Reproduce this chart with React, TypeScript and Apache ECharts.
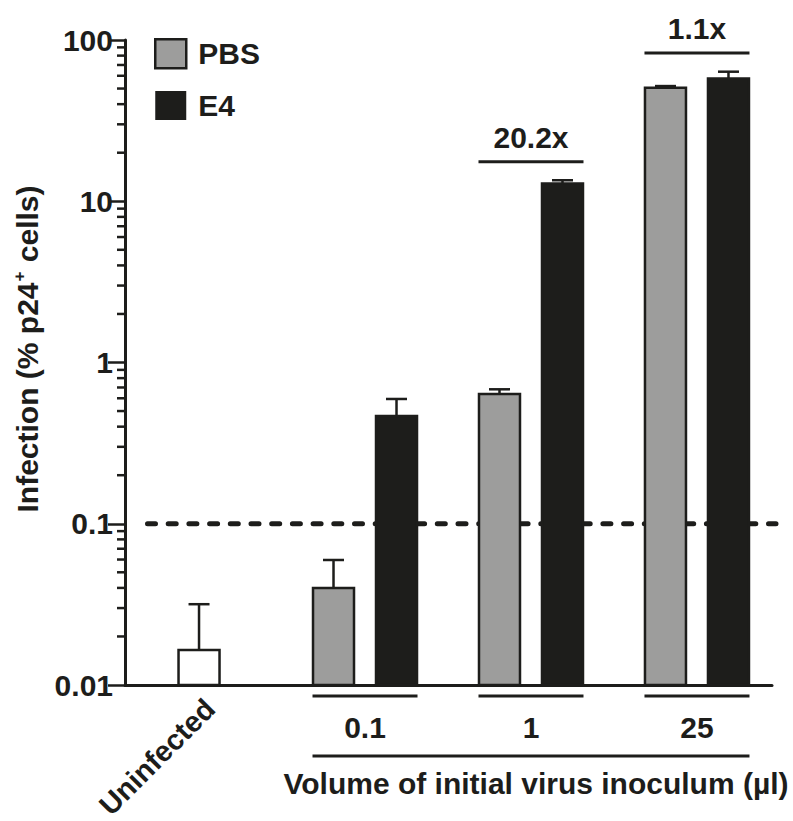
import React, { useEffect, useRef } from 'react';
import * as echarts from 'echarts';

// ---------- data ----------
const categories = ['Uninfected', '0.1', '1', '25'];
const uninfectedValue = [0.0165];
const uninfectedErrTop = [0.0317];
const groupIndices = [1, 2, 3];
const pbsValues = [0.04, 0.638, 50.6];
const pbsErrTop = [0.0596, 0.682, 51.8];
const e4Values = [0.466, 12.9, 57.8];
const e4ErrTop = [0.594, 13.5, 63.6];
const foldGroups = [2, 3];
const foldLabels = ['20.2x', '1.1x'];
const yTickLabels = ['0.01', '0.1', '1', '10', '100'];
const minorMultipliers = [2, 3, 4, 5, 6, 7, 8, 9];
const decades = [0.01, 0.1, 1, 10];
const detectionLimit = 0.1;
const xAxisTitle = 'Volume of initial virus inoculum (µl)';
const yAxisTitleMain = 'Infection (% p24';
const yAxisTitleSup = '+';
const yAxisTitleEnd = ' cells)';

// ---------- style ----------
const INK = '#1d1d1b';
const GRAY = '#9d9d9c';
const FONT = '"Liberation Sans", Arial, Helvetica, sans-serif';
const FS = 30;
const Y_MIN = 0.01;
const Y_MAX = 100;
const BAR_OFFSET = 31.5;
const BAR_W = 41;
const HALF_SPAN = 52.5;

function barRenderer(offset: number, fill: string) {
  return (params: any, api: any) => {
    const x = api.value(0);
    const v = api.value(1);
    const e = api.value(2);
    const top = api.coord([x, v]);
    const base = api.coord([x, Y_MIN]);
    const ep = api.coord([x, e]);
    const cx = top[0] + offset;
    return {
      type: 'group',
      children: [
        { type: 'line', shape: { x1: cx, y1: top[1], x2: cx, y2: ep[1] }, style: { stroke: INK, lineWidth: 2.5 } },
        { type: 'line', shape: { x1: cx - 10.5, y1: ep[1], x2: cx + 10.5, y2: ep[1] }, style: { stroke: INK, lineWidth: 2.5 } },
        {
          type: 'rect',
          shape: { x: cx - BAR_W / 2, y: top[1], width: BAR_W, height: base[1] - top[1] },
          style: { fill, stroke: INK, lineWidth: 2.5 },
        },
      ],
    };
  };
}

const textStyle = (extra: any) => ({
  fill: INK,
  fontFamily: FONT,
  fontWeight: 'bold',
  fontSize: FS,
  ...extra,
});

export default function App() {
  const ref = useRef<HTMLDivElement>(null);

  useEffect(() => {
    if (!ref.current) return;
    const chart = echarts.init(ref.current, undefined, { renderer: 'svg' });

    const minorTickData: number[][] = [];
    decades.forEach((d) => minorMultipliers.forEach((m) => minorTickData.push([0, m * d])));

    const option: any = {
      animation: false,
      backgroundColor: '#ffffff',
      grid: { left: 125, right: 21, top: 40, bottom: 136, containLabel: false },
      legend: {
        orient: 'vertical',
        left: 154,
        top: 38,
        padding: 0,
        itemWidth: 31,
        itemHeight: 29,
        itemGap: 21,
        icon: 'rect',
        selectedMode: false,
        textStyle: { color: INK, fontFamily: FONT, fontWeight: 'bold', fontSize: FS, lineHeight: 29, padding: [0, 0, 0, 7] },
        data: [
          { name: 'PBS', itemStyle: { color: GRAY, borderColor: INK, borderWidth: 2.5 } },
          { name: 'E4', itemStyle: { color: INK, borderColor: INK, borderWidth: 0 } },
        ],
      },
      xAxis: {
        type: 'value',
        min: -0.446,
        max: 3.452,
        axisLine: { show: true, onZero: false, lineStyle: { color: INK, width: 3 } },
        axisTick: { show: false },
        axisLabel: { show: false },
        splitLine: { show: false },
      },
      yAxis: {
        type: 'log',
        logBase: 10,
        min: Y_MIN,
        max: Y_MAX,
        axisLine: { show: true, onZero: false, lineStyle: { color: INK, width: 3 } },
        axisTick: { show: true, length: 17, inside: false, lineStyle: { color: INK, width: 2.5 } },
        axisLabel: {
          color: INK,
          fontFamily: FONT,
          fontWeight: 'bold',
          fontSize: FS,
          margin: 12,
          formatter: (v: number) => yTickLabels[Math.round(Math.log10(v)) + 2],
        },
        splitLine: { show: false },
      },
      graphic: [
        {
          type: 'text',
          x: 27,
          y: 349,
          rotation: Math.PI / 2,
          style: {
            text: `{a|${yAxisTitleMain}}{s|${yAxisTitleSup}}{a|${yAxisTitleEnd}}`,
            align: 'center',
            verticalAlign: 'middle',
            rich: {
              a: { fill: INK, fontFamily: FONT, fontWeight: 'bold', fontSize: FS, lineHeight: 32 },
              s: { fill: INK, fontFamily: FONT, fontWeight: 'bold', fontSize: 17, lineHeight: 32, verticalAlign: 'top', padding: [0, 1, 0, 1] },
            },
          },
        },
      ],
      series: [
        {
          name: 'minorTicks',
          type: 'custom',
          clip: false,
          silent: true,
          z: 1,
          encode: { x: 0, y: 1 },
          data: minorTickData,
          renderItem: (params: any, api: any) => {
            const p = api.coord([0, api.value(1)]);
            const x0 = params.coordSys.x;
            return { type: 'line', shape: { x1: x0 - 8, y1: p[1], x2: x0, y2: p[1] }, style: { stroke: INK, lineWidth: 2.5 } };
          },
        },
        {
          name: 'detectionLimit',
          type: 'custom',
          clip: false,
          silent: true,
          z: 1,
          encode: { x: 0, y: 1 },
          data: [[0, detectionLimit]],
          renderItem: (params: any, api: any) => {
            const p = api.coord([0, api.value(1)]);
            const cs = params.coordSys;
            return {
              type: 'line',
              shape: { x1: cs.x + 22.5, y1: p[1], x2: cs.x + cs.width + 4, y2: p[1] },
              style: { stroke: INK, lineWidth: 5, lineDash: [8, 12.7], lineCap: 'round' },
            };
          },
        },
        {
          name: 'Uninfected',
          type: 'custom',
          clip: false,
          z: 3,
          encode: { x: 0, y: 1 },
          itemStyle: { color: '#ffffff' },
          data: uninfectedValue.map((v, i) => [0, v, uninfectedErrTop[i]]),
          renderItem: barRenderer(0, '#ffffff'),
        },
        {
          name: 'PBS',
          type: 'custom',
          clip: false,
          z: 3,
          encode: { x: 0, y: 1 },
          itemStyle: { color: GRAY },
          data: groupIndices.map((g, i) => [g, pbsValues[i], pbsErrTop[i]]),
          renderItem: barRenderer(-BAR_OFFSET, GRAY),
        },
        {
          name: 'E4',
          type: 'custom',
          clip: false,
          z: 3,
          encode: { x: 0, y: 1 },
          itemStyle: { color: INK },
          data: groupIndices.map((g, i) => [g, e4Values[i], e4ErrTop[i]]),
          renderItem: barRenderer(BAR_OFFSET, INK),
        },
        {
          name: 'foldChange',
          type: 'custom',
          clip: false,
          silent: true,
          z: 3,
          encode: { x: 0, y: 1 },
          data: foldGroups.map((g) => [g, Math.max(pbsErrTop[g - 1], e4ErrTop[g - 1])]),
          renderItem: (params: any, api: any) => {
            const p = api.coord([api.value(0), api.value(1)]);
            const y = p[1] - 18.6;
            return {
              type: 'group',
              children: [
                { type: 'line', shape: { x1: p[0] - HALF_SPAN, y1: y, x2: p[0] + HALF_SPAN, y2: y }, style: { stroke: INK, lineWidth: 3 } },
                {
                  type: 'text',
                  x: p[0],
                  y: y - 24.5,
                  style: textStyle({ text: foldLabels[params.dataIndex], align: 'center', verticalAlign: 'middle' }),
                },
              ],
            };
          },
        },
        {
          name: 'categoryLabels',
          type: 'custom',
          clip: false,
          silent: true,
          z: 3,
          encode: { x: 0, y: 1 },
          data: categories.map((c, i) => [i, Y_MIN]),
          renderItem: (params: any, api: any) => {
            const i = params.dataIndex;
            const p = api.coord([api.value(0), api.value(1)]);
            if (i === 0) {
              return {
                type: 'text',
                x: p[0] + 11,
                y: p[1] + 19,
                rotation: Math.PI / 4,
                style: textStyle({ text: categories[i], align: 'right', verticalAlign: 'middle', fontSize: 29 }),
              };
            }
            return {
              type: 'group',
              children: [
                { type: 'line', shape: { x1: p[0] - HALF_SPAN, y1: p[1] + 11, x2: p[0] + HALF_SPAN, y2: p[1] + 11 }, style: { stroke: INK, lineWidth: 3 } },
                {
                  type: 'text',
                  x: p[0],
                  y: p[1] + 42,
                  style: textStyle({ text: categories[i], align: 'center', verticalAlign: 'middle' }),
                },
              ],
            };
          },
        },
        {
          name: 'xTitle',
          type: 'custom',
          clip: false,
          silent: true,
          z: 3,
          encode: { x: 0, y: 1 },
          data: [[groupIndices[0], Y_MIN, groupIndices[groupIndices.length - 1]]],
          renderItem: (params: any, api: any) => {
            const a = api.coord([api.value(0), api.value(1)]);
            const b = api.coord([api.value(2), api.value(1)]);
            const x1 = a[0] - HALF_SPAN;
            const x2 = b[0] + HALF_SPAN;
            const y = a[1] + 71;
            return {
              type: 'group',
              children: [
                { type: 'line', shape: { x1, y1: y, x2, y2: y }, style: { stroke: INK, lineWidth: 3 } },
                {
                  type: 'text',
                  x: (x1 + x2) / 2 + 5,
                  y: y + 27,
                  style: textStyle({ text: xAxisTitle, align: 'center', verticalAlign: 'middle' }),
                },
              ],
            };
          },
        },
      ],
    };

    chart.setOption(option);
    return () => chart.dispose();
  }, []);

  return (
    <div
      ref={ref}
      style={{ position: 'absolute', left: 0, top: 0, width: 793, height: 821, background: '#ffffff' }}
    />
  );
}
